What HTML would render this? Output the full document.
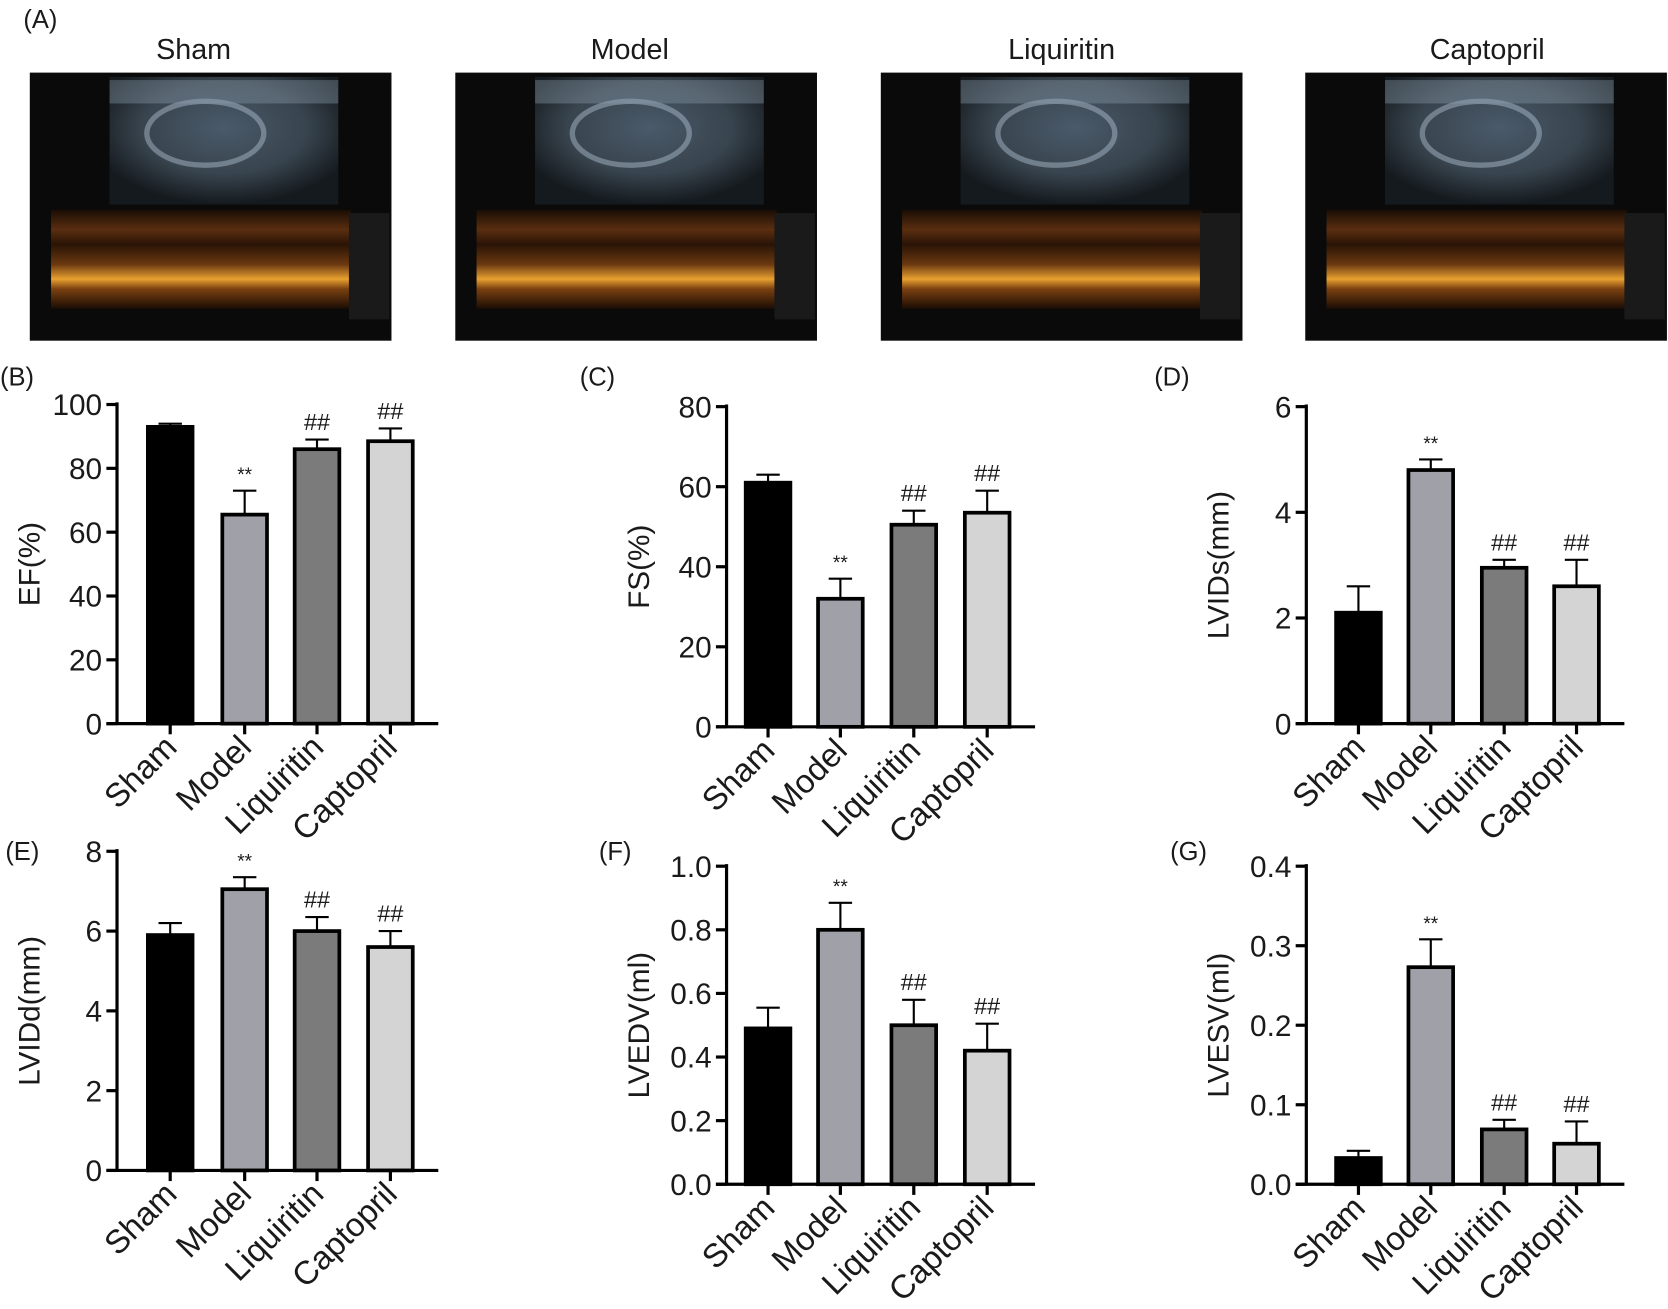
<!DOCTYPE html>
<html><head><meta charset="utf-8"><style>html,body{margin:0;padding:0;background:#fff}svg{display:block}text{font-family:"Liberation Sans",Arial,sans-serif;fill:#1a1a1a}</style></head>
<body>
<svg id="s" width="1668" height="1309" viewBox="0 0 1568 1230" xmlns="http://www.w3.org/2000/svg">
<defs>
<linearGradient id="mm" x1="0" y1="0" x2="0" y2="1">
<stop offset="0" stop-color="#1a0d04"/><stop offset="0.2" stop-color="#5a2e10"/><stop offset="0.35" stop-color="#2a1406"/><stop offset="0.55" stop-color="#6a3810"/><stop offset="0.7" stop-color="#e8a030"/><stop offset="0.8" stop-color="#7a4010"/><stop offset="1" stop-color="#1a0c04"/></linearGradient>
<radialGradient id="us" cx="0.5" cy="0.4" r="0.6"><stop offset="0" stop-color="#4a5a6a"/><stop offset="0.6" stop-color="#38444e"/><stop offset="1" stop-color="#151a1e"/></radialGradient>
</defs>
<g id="g"></g>
</svg>
<script>
const g=document.getElementById('g');let h='';
h+='<text x="22" y="26" font-size="24">(A)</text>';
const names=['Sham','Model','Liquiritin','Captopril'],px=[28,428,828,1227],cx=[182,592,998,1398];
px.forEach((x,i)=>{
h+=`<rect x="${x}" y="68" width="340" height="252" fill="#0a0a0a"/>`;
h+=`<rect x="${x+75}" y="72" width="215" height="120" fill="url(#us)"/>`;
h+=`<ellipse cx="${x+165}" cy="${125}" rx="55" ry="30" fill="none" stroke="#a8b8c8" stroke-width="5" opacity="0.5"/>`;
h+=`<rect x="${x+75}" y="75" width="215" height="22" fill="#8a9aaa" opacity="0.4"/>`;
h+=`<rect x="${x+20}" y="197" width="282" height="93" fill="url(#mm)"/>`;
h+=`<rect x="${x+300}" y="200" width="38" height="100" fill="#1a1a1a"/>`;
h+=`<text x="${cx[i]}" y="55" font-size="27" text-anchor="middle">${names[i]}</text>`;
});
const cols=['#000','#a0a0a8','#7b7b7b','#d4d4d4'];
function chart(o){
const{ax,y0,y1,max,ticks,cent,vals,errs,lab,title,marks,fmt,tl}=o;
const Y=v=>y0-(v/max)*(y0-y1);
h+=`<text x="${tl[0]}" y="${tl[1]}" font-size="24">${lab}</text>`;
cent.forEach((c,i)=>{
const yt=Y(vals[i]),ye=Y(errs[i]);
h+=`<line x1="${c}" y1="${ye}" x2="${c}" y2="${yt}" stroke="#000" stroke-width="2"/><line x1="${c-11}" y1="${ye}" x2="${c+11}" y2="${ye}" stroke="#000" stroke-width="2"/>`;
h+=`<rect x="${c-21}" y="${yt}" width="42" height="${y0-yt}" fill="${cols[i]}" stroke="#000" stroke-width="3.5"/>`;
if(marks[i])h+=`<text x="${c}" y="${ye-9}" font-size="${marks[i]=='**'?18:22}" text-anchor="middle">${marks[i]}</text>`;
h+=`<line x1="${c}" y1="${y0}" x2="${c}" y2="${y0+10}" stroke="#000" stroke-width="3"/>`;
h+=`<text transform="translate(${c+8},${y0+24}) rotate(-45)" font-size="31" text-anchor="end">${names[i]}</text>`;
});
h+=`<line x1="${ax}" y1="${y1-2}" x2="${ax}" y2="${y0}" stroke="#000" stroke-width="3"/>`;
h+=`<line x1="${ax-10}" y1="${y0}" x2="${cent[3]+45}" y2="${y0}" stroke="#000" stroke-width="3"/>`;
ticks.forEach(t=>{const y=Y(t);h+=`<line x1="${ax-10}" y1="${y}" x2="${ax}" y2="${y}" stroke="#000" stroke-width="3"/><text x="${ax-14}" y="${y+10}" font-size="28" text-anchor="end">${fmt(t)}</text>`});
h+=`<text transform="translate(${ax-73},${(y0+y1)/2}) rotate(-90)" font-size="28" text-anchor="middle">${title}</text>`;
}
const m=['','**','##','##'],I=t=>t,F1=t=>t.toFixed(1);
const cB=[160,230,298,367],cC=[722,790,859,928],cD=[1277,1345,1414,1482];
chart({ax:110,y0:680,y1:380,max:100,ticks:[0,20,40,60,80,100],cent:cB,vals:[93,65.5,86,88.5],errs:[94,73,89,92.5],lab:'(B)',title:'EF(%)',marks:m,fmt:I,tl:[0,362]});
chart({ax:683,y0:683,y1:382,max:80,ticks:[0,20,40,60,80],cent:cC,vals:[61,32,50.5,53.5],errs:[63,37,54,59],lab:'(C)',title:'FS(%)',marks:m,fmt:I,tl:[545,362]});
chart({ax:1228,y0:680,y1:382,max:6,ticks:[0,2,4,6],cent:cD,vals:[2.1,4.8,2.95,2.6],errs:[2.6,5.0,3.1,3.1],lab:'(D)',title:'LVIDs(mm)',marks:m,fmt:I,tl:[1085,362]});
chart({ax:110,y0:1100,y1:800,max:8,ticks:[0,2,4,6,8],cent:cB,vals:[5.9,7.05,6.0,5.6],errs:[6.2,7.35,6.35,6.0],lab:'(E)',title:'LVIDd(mm)',marks:m,fmt:I,tl:[5,808]});
chart({ax:683,y0:1113,y1:814,max:1,ticks:[0,.2,.4,.6,.8,1],cent:cC,vals:[.49,.8,.5,.42],errs:[.555,.885,.58,.505],lab:'(F)',title:'LVEDV(ml)',marks:m,fmt:F1,tl:[563,808]});
chart({ax:1228,y0:1113,y1:814,max:.4,ticks:[0,.1,.2,.3,.4],cent:cD,vals:[.033,.273,.069,.051],errs:[.042,.308,.081,.079],lab:'(G)',title:'LVESV(ml)',marks:m,fmt:F1,tl:[1100,808]});
g.innerHTML=h;
</script>
</body></html>
